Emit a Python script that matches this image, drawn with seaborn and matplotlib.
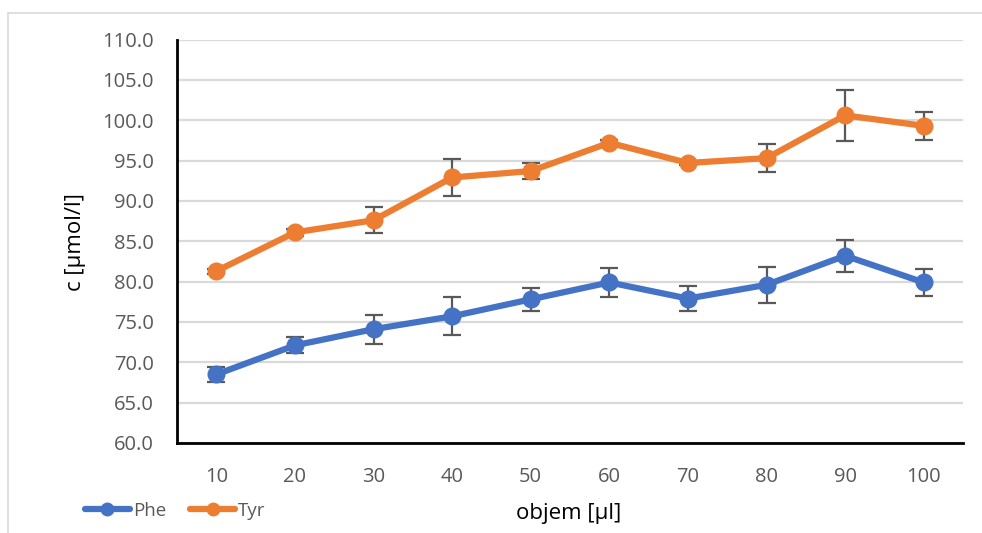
import matplotlib
matplotlib.use("Agg")
import matplotlib.pyplot as plt
from matplotlib.lines import Line2D
import numpy as np
import pandas as pd
import seaborn as sns

# Volumes and measured concentrations with their standard deviations
volumes = [10, 20, 30, 40, 50, 60, 70, 80, 90, 100]
phe_mean = [68.5, 72.1, 74.1, 75.7, 77.8, 79.9, 77.9, 79.6, 83.2, 79.9]
phe_sd = [0.9, 1.0, 1.8, 2.35, 1.4, 1.75, 1.6, 2.25, 2.0, 1.7]
tyr_mean = [81.3, 86.1, 87.6, 92.9, 93.7, 97.2, 94.7, 95.3, 100.6, 99.3]
tyr_sd = [0.3, 0.4, 1.6, 2.35, 1.0, 0.4, 0.3, 1.7, 3.15, 1.75]
y_ticks = [60, 65, 70, 75, 80, 85, 90, 95, 100, 105, 110]

series_names = ["Phe", "Tyr"]
colors = {"Phe": "#4472C4", "Tyr": "#ED7D31"}

df = pd.DataFrame({
    "objem": volumes * 2,
    "c": phe_mean + tyr_mean,
    "sd": phe_sd + tyr_sd,
    "serie": ["Phe"] * len(volumes) + ["Tyr"] * len(volumes),
})

sns.set_theme(style="white")
plt.rcParams["font.family"] = ["Open Sans", "DejaVu Sans"]

fig = plt.figure(figsize=(9.82, 5.33), dpi=100)
ax = fig.add_axes([177 / 982, 1 - 443 / 533, (963 - 177) / 982, (443 - 39.5) / 533])

# error bars sit behind the lines and markers
for name in series_names:
    sub = df[df["serie"] == name]
    ax.errorbar(sub["objem"], sub["c"], yerr=sub["sd"], fmt="none",
                ecolor="#595959", elinewidth=1.6, capsize=6.5, capthick=1.6,
                zorder=2)

sns.lineplot(data=df, x="objem", y="c", hue="serie", palette=colors,
             marker="o", markersize=13, markeredgewidth=0, linewidth=4.5,
             ax=ax, legend=False, zorder=3)

ax.set_xlim(5, 105)
ax.set_ylim(60, 110)
ax.set_xticks(volumes)
ax.set_xticklabels([str(v) for v in volumes])
ax.set_yticks(y_ticks)
ax.set_yticklabels([f"{t:.1f}" for t in y_ticks])
ax.tick_params(axis="both", length=0, labelsize=14.5, labelcolor="#595959")
ax.tick_params(axis="x", pad=17)
ax.tick_params(axis="y", pad=16.5)
ax.grid(axis="y", color="#d9d9d9", linewidth=1.6)
ax.set_axisbelow(True)

for side in ["top", "right"]:
    ax.spines[side].set_visible(False)
for side in ["left", "bottom"]:
    ax.spines[side].set_color("black")
    ax.spines[side].set_linewidth(2)

ax.set_xlabel("")
ax.set_ylabel("")
fig.text(569 / 982, 1 - 513 / 533, "objem [µl]", ha="center", va="center",
         fontsize=16, color="black")
fig.text(76 / 982, 1 - 242 / 533, "c [µmol/l]", ha="center", va="center",
         rotation=90, fontsize=16, color="black")

handles = [Line2D([], [], color=colors[n], marker="o", markersize=10,
                  linewidth=4.5, markeredgewidth=0) for n in series_names]
fig.legend(handles, series_names, loc="center left",
           bbox_to_anchor=(68 / 982, 1 - 511 / 533), ncol=2, frameon=False,
           fontsize=13.5, handlelength=2.4, handletextpad=0.15, columnspacing=1.3,
           labelcolor="#595959")

# light chart-area border along the top and left
fig.add_artist(Line2D([8 / 982, 8 / 982], [0, 1 - 13 / 533],
                      transform=fig.transFigure, color="#d9d9d9", linewidth=1.2))
fig.add_artist(Line2D([8 / 982, 1], [1 - 13 / 533, 1 - 13 / 533],
                      transform=fig.transFigure, color="#d9d9d9", linewidth=1.2))

fig.savefig("out.png", dpi=100, facecolor="white")
